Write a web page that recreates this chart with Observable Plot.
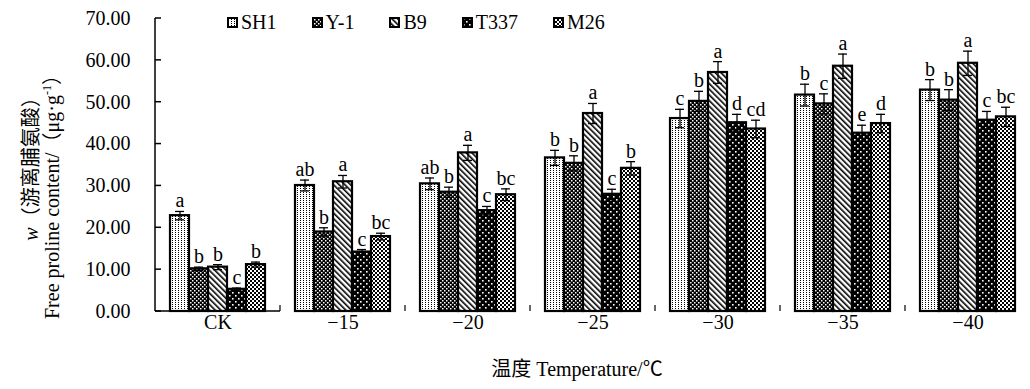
<!DOCTYPE html>
<html>
<head>
<meta charset="utf-8">
<script src="https://cdn.jsdelivr.net/npm/d3@7"></script>
<script src="https://cdn.jsdelivr.net/npm/@observablehq/plot@0.6"></script>
<style>
  html, body { margin: 0; padding: 0; background: white; }
  #wrap { position: relative; width: 1030px; height: 389px; font-family: "Liberation Serif", "Times New Roman", "Noto Sans CJK SC", serif; color: black; }
  #legend { position: absolute; left: 227px; top: 10px; display: flex; gap: 35px; font-size: 20px; line-height: 24px; font-family: "Liberation Serif", "Times New Roman", serif; }
  #legend .item { display: flex; align-items: center; gap: 3px; }
  .ytitle { position: absolute; font-size: 20px; white-space: nowrap; transform: translate(-50%, -50%) rotate(-90deg); }
  #xtitle { position: absolute; font-size: 20px; white-space: nowrap; transform: translate(-50%, -50%); }
  sup { font-size: 12px; vertical-align: 8px; line-height: 0; }
</style>
</head>
<body>
<svg width="0" height="0" style="position:absolute">
  <defs>
    <pattern id="pSH1" patternUnits="userSpaceOnUse" width="3" height="2">
      <rect width="3" height="2" fill="white"/>
      <rect x="1" y="0" width="1" height="1" fill="black"/>
    </pattern>
    <pattern id="pY1" patternUnits="userSpaceOnUse" width="4" height="4">
      <rect width="4" height="4" fill="black"/>
      <rect x="0" y="0" width="1.5" height="1.5" fill="white"/>
      <rect x="2" y="2" width="1.5" height="1.5" fill="white"/>
    </pattern>
    <pattern id="pB9" patternUnits="userSpaceOnUse" width="4" height="4" patternTransform="rotate(-45)">
      <rect width="4" height="4" fill="white"/>
      <rect x="0" y="0" width="1.6" height="4" fill="black"/>
    </pattern>
    <pattern id="pT337" patternUnits="userSpaceOnUse" width="6" height="6">
      <rect width="6" height="6" fill="black"/>
      <rect x="1" y="1" width="1.6" height="1.6" fill="white"/>
      <rect x="4" y="4" width="1.6" height="1.6" fill="white"/>
    </pattern>
    <pattern id="pM26" patternUnits="userSpaceOnUse" width="4" height="4">
      <rect width="4" height="4" fill="black"/>
      <rect x="0" y="0" width="2" height="2" fill="white"/>
      <rect x="2" y="2" width="2" height="2" fill="white"/>
    </pattern>
  </defs>
</svg>
<div id="wrap">
  <div id="chart"></div>
  <div id="legend"></div>
  <div class="ytitle" style="left:29px; top:164px;"><i>w</i>（游离脯氨酸）</div>
  <div class="ytitle" style="left:50px; top:192px;">Free proline content/（μg·g<sup>-1</sup>）</div>
  <div id="xtitle" style="left:577px; top:367px;">温度 Temperature/℃</div>
</div>
<script>
// ---- data ----
const groups = ["CK", "\u221215", "\u221220", "\u221225", "\u221230", "\u221235", "\u221240"];
const series = ["SH1", "Y-1", "B9", "T337", "M26"];
const patternIds = ["pSH1", "pY1", "pB9", "pT337", "pM26"];

const SH1  = [22.9, 30.1, 30.5, 36.7, 46.1, 51.7, 52.9];
const Y1   = [10.2, 19.0, 28.5, 35.4, 50.2, 49.6, 50.5];
const B9   = [10.6, 31.0, 37.9, 47.3, 57.1, 58.6, 59.3];
const T337 = [5.3, 14.2, 24.1, 28.0, 45.1, 42.6, 45.7];
const M26  = [11.2, 17.9, 27.9, 34.2, 43.6, 44.9, 46.5];

const SH1err  = [1.0, 1.3, 1.4, 1.8, 2.2, 2.6, 2.5];
const Y1err   = [0.4, 1.0, 1.2, 1.8, 2.4, 2.4, 2.5];
const B9err   = [0.6, 1.5, 1.8, 2.4, 2.6, 2.9, 2.9];
const T337err = [0.3, 0.6, 1.0, 1.2, 2.0, 1.9, 2.1];
const M26err  = [0.6, 0.8, 1.4, 1.6, 2.1, 2.2, 2.3];

const SH1sig  = ["a", "ab", "ab", "b", "c", "b", "b"];
const Y1sig   = ["b", "b", "b", "b", "b", "c", "b"];
const B9sig   = ["b", "a", "a", "a", "a", "a", "a"];
const T337sig = ["c", "c", "c", "c", "d", "e", "c"];
const M26sig  = ["b", "bc", "bc", "b", "cd", "d", "bc"];

const yTicks = [0, 10, 20, 30, 40, 50, 60, 70];

// ---- table ----
const values = [SH1, Y1, B9, T337, M26];
const errs = [SH1err, Y1err, B9err, T337err, M26err];
const sigs = [SH1sig, Y1sig, B9sig, T337sig, M26sig];
const rows = [];
groups.forEach((g, gi) => {
  series.forEach((s, si) => {
    rows.push({group: g, series: s, value: values[si][gi], err: errs[si][gi], sig: sigs[si][gi], pat: `url(#${patternIds[si]})`});
  });
});

// axis lines, inward ticks and group separators drawn from the scales (once, in the first facet)
let axisDrawn = false;
function axisLines(index, scales, vals, dims) {
  if (index && index.fi != null) { if (index.fi !== 0) return null; }
  else { if (axisDrawn) return null; axisDrawn = true; }
  const {fx, y} = scales;
  const g = d3.create("svg:g").attr("stroke", "black").attr("fill", "none");
  const x0 = fx ? fx(groups[0]) : dims.marginLeft;
  const x1 = dims.width - dims.marginRight;
  const yb = y(0);
  g.append("line").attr("x1", x0).attr("x2", x0).attr("y1", y(yTicks[yTicks.length - 1])).attr("y2", yb).attr("stroke-width", 1.5);
  g.append("line").attr("x1", x0).attr("x2", x1).attr("y1", yb).attr("y2", yb).attr("stroke-width", 1.5);
  yTicks.forEach(t => g.append("line").attr("x1", x0).attr("x2", x0 + 6).attr("y1", y(t)).attr("y2", y(t)).attr("stroke-width", 1.5));
  if (fx) groups.slice(1).forEach(gr => g.append("line").attr("x1", fx(gr)).attr("x2", fx(gr)).attr("y1", yb).attr("y2", yb - 6).attr("stroke-width", 1.2));
  return g.node();
}

const chart = Plot.plot({
  width: 1030,
  height: 389,
  marginLeft: 155,
  marginRight: 0,
  marginTop: 18,
  marginBottom: 78,
  style: {fontFamily: '"Liberation Serif", "Times New Roman", "Noto Sans CJK SC", serif', fontSize: "20px", background: "white", color: "black", overflow: "visible"},
  fx: {domain: groups, padding: 0, label: null},
  x: {domain: series, paddingInner: 0, paddingOuter: 0.69, axis: null},
  y: {domain: [0, 70], label: null},
  color: {type: "identity"},
  marks: [
    Plot.barY(rows, {fx: "group", x: "series", y: "value", fill: "pat", stroke: "black", strokeWidth: 2.2}),
    Plot.ruleX(rows, {fx: "group", x: "series", y1: d => d.value - d.err, y2: d => d.value + d.err, stroke: "black", strokeWidth: 1.3}),
    Plot.tickY(rows, {fx: "group", x: "series", y: d => d.value + d.err, stroke: "black", strokeWidth: 1.3, insetLeft: 5, insetRight: 5}),
    Plot.tickY(rows, {fx: "group", x: "series", y: d => d.value - d.err, stroke: "black", strokeWidth: 1.3, insetLeft: 5, insetRight: 5}),
    Plot.text(rows, {fx: "group", x: "series", y: d => d.value + d.err, text: "sig", lineAnchor: "bottom", dy: -4, fontSize: 20, fill: "black"}),
    Plot.axisY({ticks: yTicks, tickFormat: d => d.toFixed(2), tickSize: 0, tickPadding: 25, fontSize: 20, label: null}),
    Plot.axisFx({anchor: "bottom", tickSize: 0, tickPadding: 3, fontSize: 20, label: null}),
    axisLines
  ]
});
document.getElementById("chart").appendChild(chart);

// legend
const legend = d3.select("#legend");
series.forEach((s, i) => {
  const item = legend.append("div").attr("class", "item");
  const sw = item.append("svg").attr("width", 11).attr("height", 11);
  sw.append("rect").attr("x", 1).attr("y", 1).attr("width", 9).attr("height", 9)
    .attr("fill", `url(#${patternIds[i]})`).attr("stroke", "black").attr("stroke-width", 2);
  item.append("span").text(s);
});
</script>
</body>
</html>
